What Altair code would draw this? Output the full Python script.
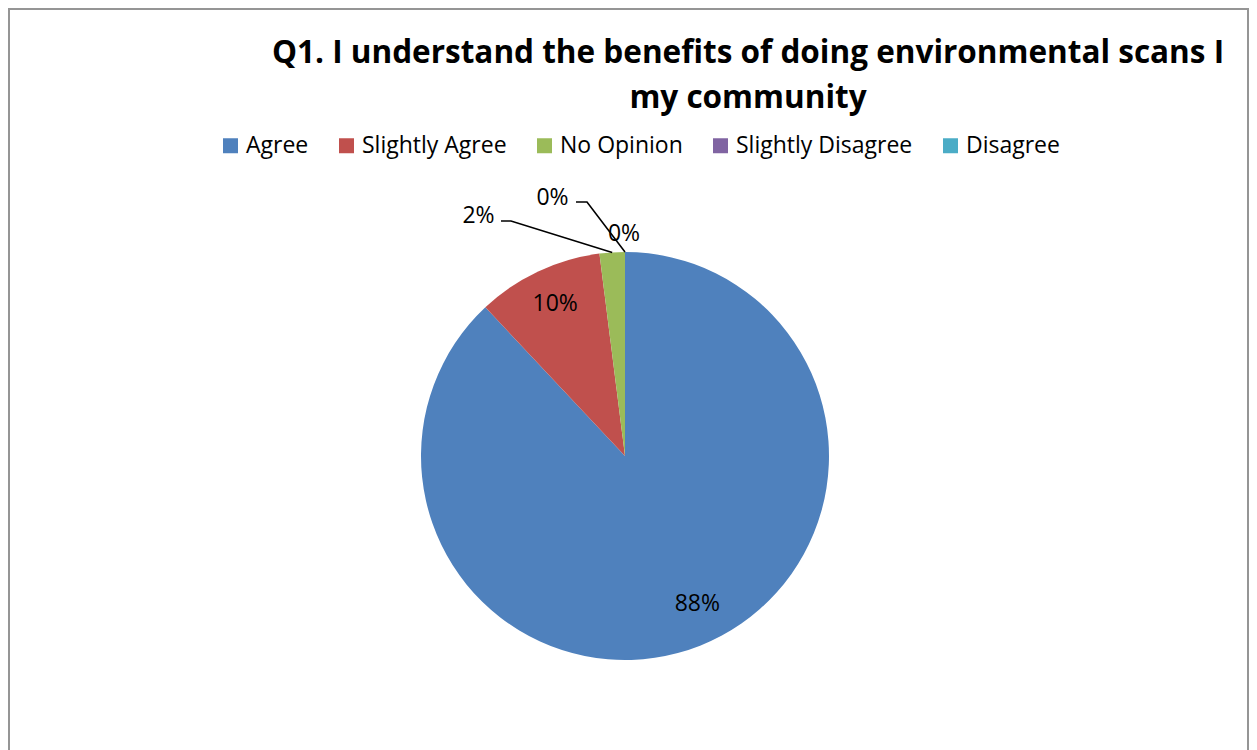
import altair as alt
import pandas as pd
import math

# ---- data ----
categories = ["Agree", "Slightly Agree", "No Opinion", "Slightly Disagree", "Disagree"]
values = [88, 10, 2, 0, 0]
labels = ["88%", "10%", "2%", "0%", "0%"]
colors = ["#4F81BD", "#C0504D", "#9BBB59", "#8064A2", "#4BACC6"]
title_lines = ["Q1. I understand the benefits of doing environmental scans I", "my community"]

# ---- layout ----
W, H = 1241, 760
CX, CY, R = 617, 448, 204
FONT = "Open Sans"
DY = -4  # visual centring of Open Sans digits inside the pie

df = pd.DataFrame({"cat": categories, "val": values, "lab": labels, "ord": list(range(len(categories)))})

color_scale = alt.Scale(domain=categories, range=colors)

border = alt.Chart(pd.DataFrame({"b": [0]})).mark_rect(
    filled=False, stroke="#959595", strokeWidth=2, fill=None
).encode(x=alt.value(1), x2=alt.value(W - 1), y=alt.value(1), y2=alt.value(H + 20))

pie = alt.Chart(df).mark_arc(radius=R, stroke=None).encode(
    theta=alt.Theta("val:Q", stack=True),
    color=alt.Color("cat:N", scale=color_scale, sort=categories,
                    legend=alt.Legend(title=None, orient="none", direction="horizontal",
                                      legendX=211, legendY=126, columns=5,
                                      symbolType="square", symbolSize=225,
                                      symbolStrokeWidth=0, labelFont=FONT, labelFontSize=23,
                                      labelColor="#000000", labelOffset=4, columnPadding=26,
                                      labelLimit=400)),
    order=alt.Order("ord:Q"),
    x=alt.value(CX), y=alt.value(CY),
)


def inside_layer(cond, dx):
    return alt.Chart(df).mark_text(radius=164, font=FONT, fontSize=23, color="#000000",
                                   align="center", baseline="middle", dx=dx, dy=DY).encode(
        theta=alt.Theta("val:Q", stack=True),
        order=alt.Order("ord:Q"),
        text=alt.Text("show:N"),
        x=alt.value(CX), y=alt.value(CY),
    ).transform_calculate(show=f"({cond}) ? datum.lab : ''")


inside_big = inside_layer("datum.ord == 0", 12)
inside_small = inside_layer("datum.ord > 0 && datum.val >= 5", 0)

# outside labels with leader lines (edge points derived from data)
total = sum(values)
cum = 0
edge = []
for v in values:
    mid = (cum + v / 2) / total * 2 * math.pi
    edge.append((CX + R * math.sin(mid), CY - R * math.cos(mid)))
    cum += v

# label anchor positions (layout) for small slices: (text x, text y, elbow start x, elbow x, elbow y)
outside_layout = {
    2: (470.5, 208, 493, 503, 213),
    3: (544.5, 190, 568, 579, 194),
}
line_rows = []
text_rows = []
for i, (tx, ty, sx, ex, ey) in outside_layout.items():
    text_rows.append({"lab": labels[i], "x": tx, "y": ty})
    line_rows += [
        {"id": i, "k": 0, "x": sx, "y": ey},
        {"id": i, "k": 1, "x": ex, "y": ey},
        {"id": i, "k": 2, "x": edge[i][0], "y": edge[i][1]},
    ]
# last 0% label sits just above the top edge
text_rows.append({"lab": labels[4], "x": 616, "y": 226})

xs = alt.Scale(domain=[0, W], range=[0, W])
ys = alt.Scale(domain=[0, H], range=[0, H])

leaders = alt.Chart(pd.DataFrame(line_rows)).mark_line(color="#000000", strokeWidth=1.6).encode(
    x=alt.X("x:Q", scale=xs, axis=None),
    y=alt.Y("y:Q", scale=ys, axis=None),
    detail="id:N",
    order="k:Q",
)
out_text = alt.Chart(pd.DataFrame(text_rows)).mark_text(font=FONT, fontSize=23, color="#000000",
                                                       align="center", baseline="middle").encode(
    x=alt.X("x:Q", scale=xs, axis=None),
    y=alt.Y("y:Q", scale=ys, axis=None),
    text="lab:N",
)

t1 = alt.Chart(pd.DataFrame({"t": [title_lines[0]]})).mark_text(
    font=FONT, fontSize=31.5, fontWeight="bold", color="#000000", align="center", baseline="alphabetic"
).encode(text="t:N", x=alt.value(740), y=alt.value(55))
t2 = alt.Chart(pd.DataFrame({"t": [title_lines[1]]})).mark_text(
    font=FONT, fontSize=31.5, fontWeight="bold", color="#000000", align="center", baseline="alphabetic"
).encode(text="t:N", x=alt.value(740), y=alt.value(100))

chart = alt.layer(border, pie, inside_big, inside_small, leaders, out_text, t1, t2).resolve_scale(
    x="independent", y="independent"
).properties(
    width=W, height=H, padding=0,
    autosize=alt.AutoSizeParams(type="none"),
).configure_view(stroke=None).configure(background="#ffffff")

chart.save("out.html", embed_options={"renderer": "svg", "actions": False})
